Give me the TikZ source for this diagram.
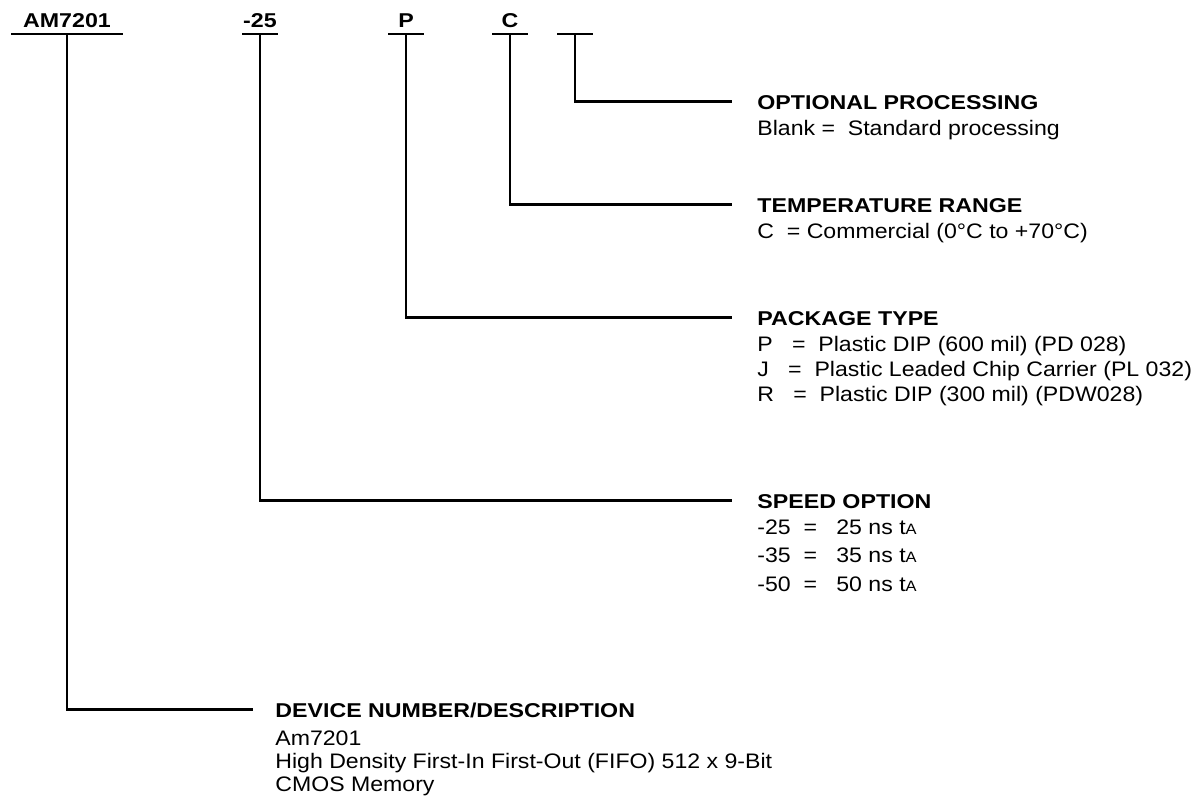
\documentclass[tikz,border=0pt]{standalone}
\usepackage{fontspec}
\setmainfont{Liberation Sans}[UprightFeatures={FakeStretch=1.1}, BoldFeatures={FakeStretch=1.16}]
\usetikzlibrary{positioning}

\newcommand{\tacc}{t{\fontsize{7.5}{7.5}\selectfont A}}

\tikzset{
  field/.style={font=\bfseries, anchor=south, inner xsep=0pt, inner ysep=3pt, text depth=0pt, minimum width=17.5pt},
  head/.style={font=\bfseries, anchor=base west, inner sep=0pt, text height=7.5pt, text depth=0pt},
  desc/.style={align=left, anchor=north west, inner sep=0pt},
  lead/.style={line width=1.1pt},
}

\begin{document}
\begin{tikzpicture}[x=0.5pt, y=-0.5pt, font=\fontsize{10.5}{12.5}\selectfont]
  \useasboundingbox (0,0) rectangle (1199,799);

  % ordering code fields
  \node[field, minimum width=55.5pt] (am) at (67,34) {AM7201};
  \node[field] (spd) at (260,34) {-25};
  \node[field] (pkg) at (406,34) {P};
  \node[field] (tmp) at (510,34) {C};
  \node[field] (opt) at (575,34) {};
  \foreach \f in {am,spd,pkg,tmp,opt}
    \draw[lead] (\f.south west) -- (\f.south east);

  % descriptions
  \node[head] (opth) at (757,109) {OPTIONAL PROCESSING};
  \node[desc, below=5.35pt of opth.south west, anchor=north west] (optd) {Blank =~ Standard processing};

  \node[head] (tmph) at (757,212) {TEMPERATURE RANGE};
  \node[desc, below=5.35pt of tmph.south west, anchor=north west] (tmpd) {C ~= Commercial (0°C to +70°C)};

  \node[head] (pkgh) at (757,325) {PACKAGE TYPE};
  \node[desc, below=5.35pt of pkgh.south west, anchor=north west] (pkgd)
    {P ~~=~ Plastic DIP (600 mil) (PD 028)\\
     J ~~=~ Plastic Leaded Chip Carrier (PL 032)\\
     R ~~=~ Plastic DIP (300 mil) (PDW028)};

  \node[head] (spdh) at (757,508) {SPEED OPTION};
  \node[desc, below=5.35pt of spdh.south west, anchor=north west, font=\fontsize{10.5}{14.25}\selectfont] (spdd)
    {-25 ~=~~ 25 ns \tacc\\
     -35 ~=~~ 35 ns \tacc\\
     -50 ~=~~ 50 ns \tacc};

  \node[head] (amh) at (275,717) {DEVICE NUMBER/DESCRIPTION};
  \node[desc, below=6.35pt of amh.south west, anchor=north west, font=\fontsize{10.5}{11.7}\selectfont] (amd)
    {Am7201\\
     High Density First-In First-Out (FIFO) 512 x 9-Bit\\
     CMOS Memory};

  % leaders
  \draw[lead] (opt.south) |- ([xshift=-12.5pt]opth.west);
  \draw[lead] (tmp.south) |- ([xshift=-12.5pt]tmph.west);
  \draw[lead] (pkg.south) |- ([xshift=-12.5pt]pkgh.west);
  \draw[lead] (spd.south) |- ([xshift=-12.5pt]spdh.west);
  \draw[lead] (am.south) |- ([xshift=-11pt]amh.west);
\end{tikzpicture}
\end{document}
